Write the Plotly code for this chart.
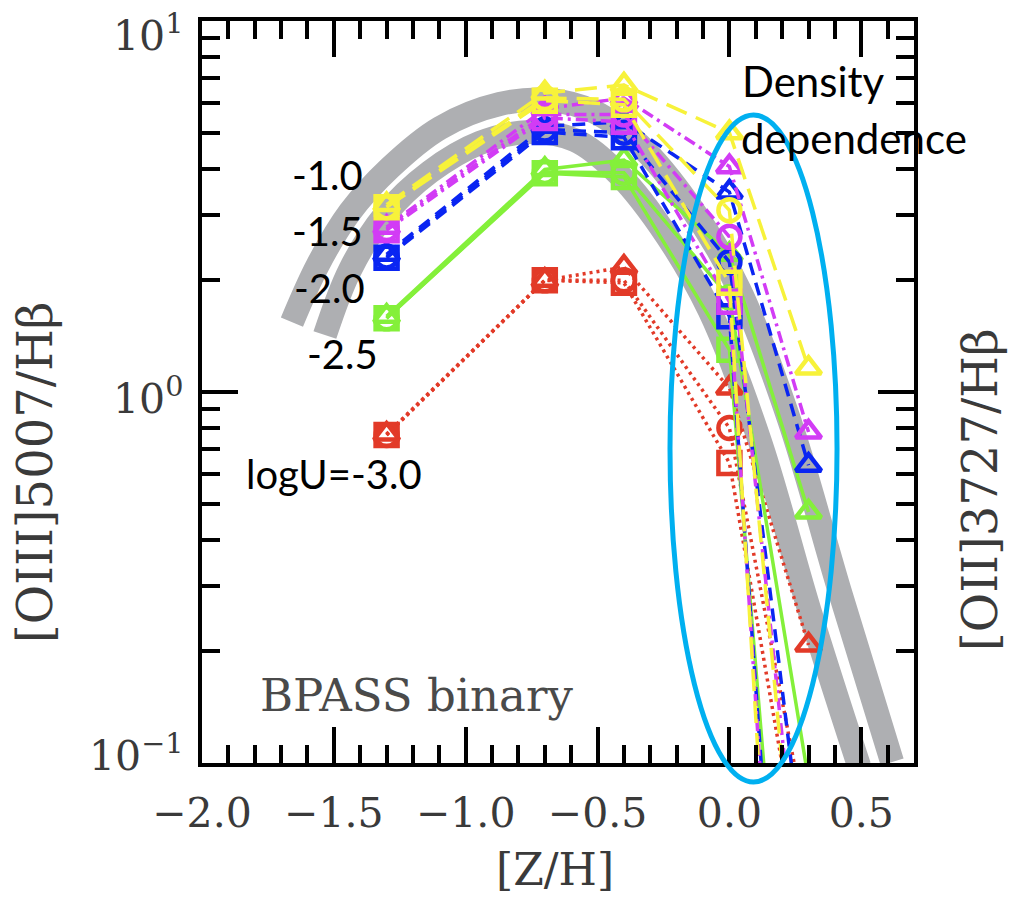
import math
import plotly.graph_objects as go

# ---------------------------------------------------------------
# Model grid: metallicity [Z/H] of the BPASS binary populations
# ---------------------------------------------------------------
z_grid = [-1.3, -0.7, -0.4, 0.0, 0.3]

# [OIII]5007/Hbeta for each ionisation parameter, three gas densities
# (sq = lowest density, ci = intermediate, tr = highest)
u10_sq = [3.15, 6.10, 5.95, 1.97, 0.0006]
u10_ci = [3.15, 6.20, 6.15, 3.09, 0.018]
u10_tr = [3.20, 6.40, 6.72, 5.00, 1.16]

u15_sq = [2.73, 5.48, 5.35, 1.75, 0.0010]
u15_ci = [2.75, 5.60, 5.60, 2.62, 0.025]
u15_tr = [2.78, 5.80, 6.20, 4.05, 0.78]

u20_sq = [2.30, 5.02, 4.86, 1.60, 0.0016]
u20_ci = [2.32, 5.10, 5.00, 2.24, 0.042]
u20_tr = [2.35, 5.20, 5.35, 3.46, 0.635]

u25_sq = [1.58, 3.89, 3.80, 1.30, 0.0035]
u25_ci = [1.58, 3.92, 3.90, 1.80, 0.090]
u25_tr = [1.60, 3.98, 4.22, 2.35, 0.475]

u30_sq = [0.766, 2.00, 1.97, 0.644, 0.039]
u30_ci = [0.766, 2.00, 2.00, 0.80, 0.063]
u30_tr = [0.770, 2.00, 2.17, 1.025, 0.208]

# Empirical calibration bands
band_outer_z = [-1.659, -1.561, -1.439, -1.288, -1.098, -0.871, -0.682, -0.511,
                -0.341, -0.152, 0.038, 0.227, 0.417, 0.617]
band_outer_ratio = [1.544, 2.199, 3.056, 4.017, 5.147, 5.973, 6.124, 5.685,
                    4.633, 3.192, 1.883, 0.840, 0.2926, 0.1006]
band_inner_z = [-1.534, -1.439, -1.307, -1.136, -0.947, -0.758, -0.587, -0.436,
                -0.265, -0.076, 0.114, 0.303, 0.492]
band_inner_ratio = [1.424, 2.132, 3.000, 3.917, 4.691, 5.021, 4.778, 3.966,
                    2.818, 1.663, 0.742, 0.2585, 0.098]

# Axis ticks
x_major = [-2.0, -1.5, -1.0, -0.5, 0.0, 0.5]
x_major_text = ["\u22122.0", "\u22121.5", "\u22121.0", "\u22120.5", "0.0", "0.5"]
x_minor = [-1.9, -1.8, -1.7, -1.6, -1.4, -1.3, -1.2, -1.1, -0.9, -0.8, -0.7, -0.6,
           -0.4, -0.3, -0.2, -0.1, 0.1, 0.2, 0.3, 0.4, 0.6]
y_major = [0.1, 1, 10]
y_major_text = ["10<sup>\u22121</sup>", "10<sup>0</sup>", "10<sup>1</sup>"]
y_minor = [0.2, 0.3, 0.4, 0.5, 0.6, 0.7, 0.8, 0.9, 2, 3, 4, 5, 6, 7, 8, 9]

# ---------------------------------------------------------------
# Styles
# ---------------------------------------------------------------
series_style = {
    "u10": dict(color="#F7F23A", dash="22px,10px"),
    "u15": dict(color="#D23CF5", dash="12px,5px,3px,5px"),
    "u20": dict(color="#0A25F2", dash="13px,8px"),
    "u25": dict(color="#84F03A", dash="solid"),
    "u30": dict(color="#E23A28", dash="3px,4px"),
}
density_symbol = {"sq": "square-open", "ci": "circle-open", "tr": "triangle-up-open"}

model_series = [
    ("u30", "sq", u30_sq), ("u30", "ci", u30_ci), ("u30", "tr", u30_tr),
    ("u25", "sq", u25_sq), ("u25", "ci", u25_ci), ("u25", "tr", u25_tr),
    ("u20", "sq", u20_sq), ("u20", "ci", u20_ci), ("u20", "tr", u20_tr),
    ("u15", "sq", u15_sq), ("u15", "ci", u15_ci), ("u15", "tr", u15_tr),
    ("u10", "sq", u10_sq), ("u10", "ci", u10_ci), ("u10", "tr", u10_tr),
]

band_color = "#AEAFB2"
serif = "DejaVu Serif"
sans = "Lato"
label_grey = "#3a3a3a"

fig = go.Figure()

for bz, br in [(band_outer_z, band_outer_ratio), (band_inner_z, band_inner_ratio)]:
    fig.add_trace(go.Scatter(
        x=bz, y=br, mode="lines",
        line=dict(color=band_color, width=24, shape="spline", smoothing=1.0),
        hoverinfo="skip", showlegend=False,
    ))

for key, dens, vals in model_series:
    st = series_style[key]
    fig.add_trace(go.Scatter(
        x=z_grid, y=vals, mode="lines+markers",
        line=dict(color=st["color"], width=3.5, dash=st["dash"]),
        marker=dict(symbol=density_symbol[dens], size=22, color=st["color"],
                    line=dict(width=4.5, color=st["color"])),
        cliponaxis=True, showlegend=False,
    ))

axis_common = dict(
    showline=True, linewidth=4, linecolor="black", mirror="allticks",
    ticks="inside", tickwidth=3.5, tickcolor="black", showgrid=False, zeroline=False,
    tickfont=dict(family=serif, size=41, color=label_grey),
)

fig.update_xaxes(
    range=[-2.0, 0.7], tickmode="array", tickvals=x_major, ticktext=x_major_text,
    ticklen=36, ticklabelstandoff=11,
    minor=dict(tickmode="array", tickvals=x_minor, ticks="inside", ticklen=18,
               tickwidth=3.5, tickcolor="black"),
    **axis_common,
)
fig.update_yaxes(
    type="log", range=[-1, 1], tickmode="array", tickvals=y_major,
    showticklabels=False,
    ticklen=36,
    minor=dict(tickmode="array", tickvals=y_minor, ticks="inside", ticklen=18,
               tickwidth=3.5, tickcolor="black"),
    **axis_common,
)

# Decade labels of the log axis, nudged inside the frame at both ends
y_label_shift = [10, -4, -12]
for val, txt, dy in zip(y_major, y_major_text, y_label_shift):
    fig.add_annotation(text=txt, x=-0.0239, y=math.log10(val), xref="paper", yref="y",
                       xanchor="right", yanchor="middle", yshift=dy, showarrow=False,
                       font=dict(family=serif, size=41, color=label_grey))

# Highlight of the high-metallicity, density-sensitive region
fig.add_shape(type="circle", xref="paper", yref="paper",
              x0=0.6573, x1=0.8919, y0=-0.0256, y1=0.8733,
              line=dict(color="#00B0F0", width=5), layer="above")

labels = [
    ("-1.0", 0.1756, 0.7925),
    ("-1.5", 0.1756, 0.7170),
    ("-2.0", 0.1784, 0.6400),
    ("-2.5", 0.1980, 0.5510),
    ("logU=-3.0", 0.1853, 0.3900),
]
for txt, px, py in labels:
    fig.add_annotation(text=txt, x=px, y=py, xref="paper", yref="paper",
                       showarrow=False, font=dict(family=sans, size=40, color="black"),
                       xanchor="center", yanchor="middle")

fig.add_annotation(text="Density", x=0.755, y=0.919, xref="paper", yref="paper",
                   showarrow=False, xanchor="left", yanchor="middle",
                   font=dict(family=sans, size=42, color="black"))
fig.add_annotation(text="dependence", x=0.754, y=0.842, xref="paper", yref="paper",
                   showarrow=False, xanchor="left", yanchor="middle",
                   font=dict(family=sans, size=42, color="black"))

fig.add_annotation(text="BPASS binary", x=0.3006, y=0.0916, xref="paper", yref="paper",
                   showarrow=False, xanchor="center", yanchor="middle",
                   font=dict(family=serif, size=45, color="#4a4a4a"))

fig.add_annotation(text="[Z/H]", x=0.496, y=-0.144, xref="paper", yref="paper",
                   showarrow=False, xanchor="center", yanchor="middle",
                   font=dict(family=serif, size=44, color=label_grey))
fig.add_annotation(text="[OIII]5007/H\u03b2", x=-0.2346, y=0.392, xref="paper", yref="paper",
                   showarrow=False, textangle=-90, xanchor="center", yanchor="middle",
                   font=dict(family=serif, size=48, color=label_grey))
fig.add_annotation(text="[OII]3727/H\u03b2", x=1.0927, y=0.368, xref="paper", yref="paper",
                   showarrow=False, textangle=-90, xanchor="center", yanchor="middle",
                   font=dict(family=serif, size=48, color=label_grey))

fig.update_layout(
    width=1010, height=897,
    margin=dict(l=202, r=96, t=21, b=134),
    paper_bgcolor="white", plot_bgcolor="white",
    showlegend=False,
)

fig.write_html("out.html")
